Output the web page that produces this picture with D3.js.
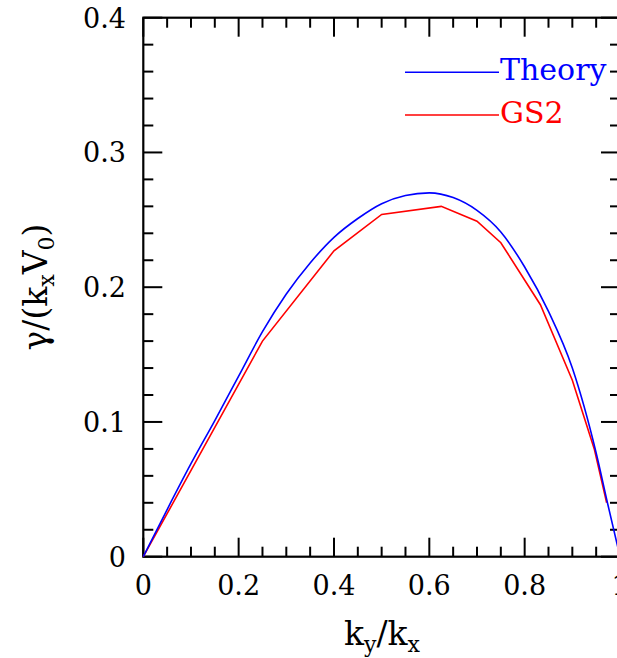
<!doctype html>
<html>
<head>
<meta charset="utf-8"/>
<title>Growth rate vs ky/kx</title>
<script src="https://d3js.org/d3.v7.min.js"></script>
<style>
body { margin:0; background:#fff; }
text { font-family: "DejaVu Serif", serif; }
</style>
</head>
<body>
<script type="text/javascript">
// data
var theoryK = [0, 0.05, 0.1, 0.15, 0.2, 0.25, 0.3, 0.35, 0.4, 0.45, 0.5, 0.55, 0.6, 0.65, 0.7, 0.75, 0.8, 0.85, 0.9, 0.95, 0.975, 1.0];
var theoryG = [0, 0.035, 0.069, 0.101, 0.134, 0.167, 0.195, 0.218, 0.237, 0.251, 0.262, 0.268, 0.270, 0.2665, 0.257, 0.241, 0.215, 0.182, 0.140, 0.077, 0.038, 0];
var gs2K = [0, 0.25, 0.4, 0.5, 0.625, 0.7, 0.75, 0.833, 0.9, 0.946, 0.972];
var gs2G = [0, 0.160, 0.227, 0.254, 0.260, 0.249, 0.233, 0.187, 0.131, 0.080, 0.040];
var xMajor = [0, 0.2, 0.4, 0.6, 0.8, 1];
var xLabels = ["0", "0.2", "0.4", "0.6", "0.8", "1"];
var yMajor = [0, 0.1, 0.2, 0.3, 0.4];
var yLabels = ["0", "0.1", "0.2", "0.3", "0.4"];
var seriesNames = ["Theory", "GS2"];
var seriesColors = ["#0000ff", "#ff0000"];

var W = 617, H = 658;
var pL = 143.3, pR = 620, pT = 17.7, pB = 556.7;

var svg = d3.select("body").append("svg")
    .attr("width", W).attr("height", H);

var x = d3.scaleLinear().domain([0, 1]).range([pL, pR]);
var y = d3.scaleLinear().domain([0, 0.4]).range([pB, pT]);

var xMinor = d3.range(0, 1.0001, 0.05).filter(function(d){ return Math.abs(d*5 - Math.round(d*5)) > 1e-6; });
var yMinor = d3.range(0, 0.4001, 0.02).filter(function(d){ return Math.abs(d*10 - Math.round(d*10)) > 1e-6; });

var MAJ = 19, MIN = 10;

// ticks on all four sides
var tk = svg.append("g").attr("stroke", "black").attr("stroke-width", 2);
function xt(vals, len){
  tk.selectAll(null).data(vals).enter().append("line")
    .attr("x1", function(d){ return x(d); }).attr("x2", function(d){ return x(d); })
    .attr("y1", pB).attr("y2", pB - len);
  tk.selectAll(null).data(vals).enter().append("line")
    .attr("x1", function(d){ return x(d); }).attr("x2", function(d){ return x(d); })
    .attr("y1", pT).attr("y2", pT + len);
}
function yt(vals, len){
  tk.selectAll(null).data(vals).enter().append("line")
    .attr("y1", function(d){ return y(d); }).attr("y2", function(d){ return y(d); })
    .attr("x1", pL).attr("x2", pL + len);
  tk.selectAll(null).data(vals).enter().append("line")
    .attr("y1", function(d){ return y(d); }).attr("y2", function(d){ return y(d); })
    .attr("x1", pR).attr("x2", pR - len);
}
xt(xMajor, MAJ); xt(xMinor, MIN);
yt(yMajor, MAJ); yt(yMinor, MIN);

svg.append("rect")
  .attr("x", pL).attr("y", pT)
  .attr("width", pR - pL).attr("height", pB - pT)
  .attr("fill", "none").attr("stroke", "black").attr("stroke-width", 2.2);

// tick labels
svg.selectAll(".xl").data(xMajor).enter().append("text")
  .attr("x", function(d){ return x(d); })
  .attr("y", 595)
  .attr("text-anchor", "middle")
  .attr("font-size", 27)
  .text(function(d,i){ return xLabels[i]; });

svg.selectAll(".yl").data(yMajor).enter().append("text")
  .attr("x", 126)
  .attr("y", function(d){ return y(d) + 10; })
  .attr("text-anchor", "end")
  .attr("font-size", 27)
  .text(function(d,i){ return yLabels[i]; });

// axis titles
var xt1 = svg.append("text").attr("x", 382).attr("y", 645)
  .attr("text-anchor", "middle").attr("font-size", 33);
xt1.append("tspan").text("k");
xt1.append("tspan").attr("font-size", 22).attr("dy", 7).text("y");
xt1.append("tspan").attr("dy", -7).text("/k");
xt1.append("tspan").attr("font-size", 22).attr("dy", 7).text("x");

var yt1 = svg.append("text")
  .attr("transform", "translate(47,287) rotate(-90)")
  .attr("text-anchor", "middle").attr("font-size", 33);
yt1.append("tspan").text("\u03b3/(k");
yt1.append("tspan").attr("font-size", 22).attr("dy", 7).text("x");
yt1.append("tspan").attr("dy", -7).text("V");
yt1.append("tspan").attr("font-size", 22).attr("dy", 7).text("0");
yt1.append("tspan").attr("dy", -7).text(")");

// curves
var plot = svg.append("g");
var theory = theoryK.map(function(d,i){ return [d, theoryG[i]]; });
var gs2 = gs2K.map(function(d,i){ return [d, gs2G[i]]; });

var smooth = d3.line()
  .x(function(d){ return x(d[0]); }).y(function(d){ return y(d[1]); })
  .curve(d3.curveMonotoneX);
var straight = d3.line()
  .x(function(d){ return x(d[0]); }).y(function(d){ return y(d[1]); });

plot.append("path").attr("d", straight(gs2))
  .attr("fill", "none").attr("stroke", seriesColors[1]).attr("stroke-width", 1.6);
plot.append("path").attr("d", smooth(theory))
  .attr("fill", "none").attr("stroke", seriesColors[0]).attr("stroke-width", 1.6);

// legend
var legY = [72.3, 115];
seriesNames.forEach(function(n, i){
  svg.append("line")
    .attr("x1", 405).attr("x2", 499)
    .attr("y1", legY[i]).attr("y2", legY[i])
    .attr("stroke", seriesColors[i]).attr("stroke-width", 1.6);
  svg.append("text")
    .attr("x", 500).attr("y", legY[i] + 8)
    .attr("font-size", 30)
    .attr("fill", seriesColors[i])
    .text(n);
});
</script>
</body>
</html>
